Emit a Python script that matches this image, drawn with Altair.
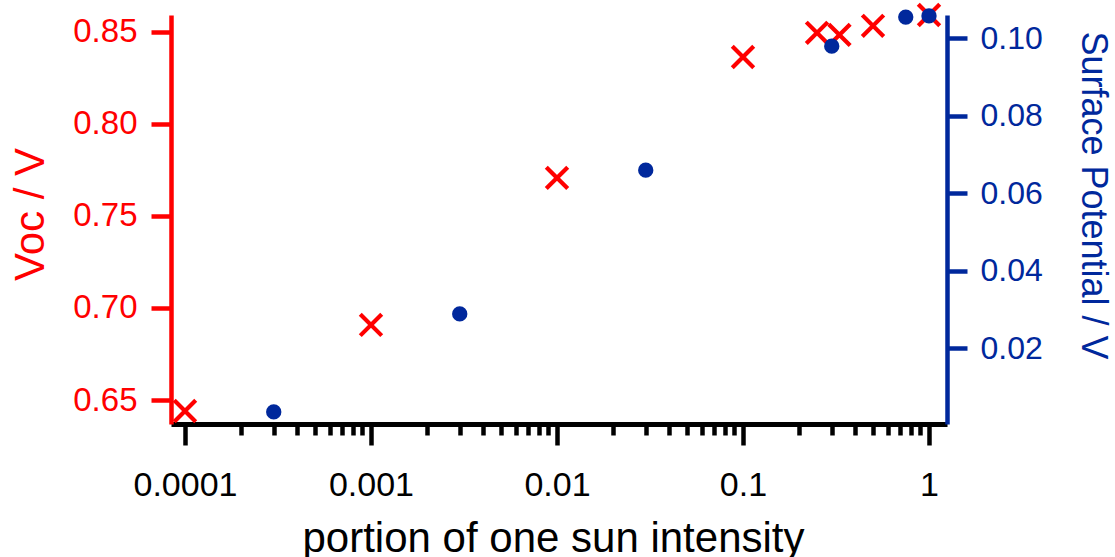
import altair as alt
import pandas as pd

# ---- data ----
intensity_voc = [0.0001, 0.001, 0.01, 0.1, 0.25, 0.33, 0.5, 1.0]
voc = [0.644, 0.6908, 0.7707, 0.8364, 0.8495, 0.8484, 0.8533, 0.8592]

intensity_sp = [0.0003, 0.003, 0.03, 0.3, 0.75, 1.0]
surface_potential = [0.0035, 0.0288, 0.0659, 0.0979, 0.1054, 0.1057]

decades = [0.0001, 0.001, 0.01, 0.1]
multipliers = [1, 2, 3, 4, 5, 6, 7, 8, 9]
last_tick = [1.0]

voc_ticks = [0.65, 0.70, 0.75, 0.80, 0.85]
sp_ticks = [0.02, 0.04, 0.06, 0.08, 0.10]

RED = "#ff0000"
BLUE = "#00289c"
FONT = "Liberation Sans"

x_ticks = [round(d * m, 8) for d in decades for m in multipliers] + last_tick

df_voc = pd.DataFrame({"intensity": intensity_voc, "voc": voc})
df_sp = pd.DataFrame({"intensity": intensity_sp, "sp": surface_potential})

decade_test = "abs(log(datum.value)/LN10 - round(log(datum.value)/LN10)) < 0.001"

x_scale = alt.Scale(type="log", domain=[8.41e-5, 1.2497], nice=False)
x_axis = alt.Axis(
    title="portion of one sun intensity",
    values=x_ticks,
    labelExpr=f"({decade_test}) ? format(datum.value, '~g') : ''",
    labelOverlap=False,
    labelFlush=False,
    labelFont=FONT,
    labelFontSize=34,
    labelColor="black",
    labelPadding=23,
    tickSize={"condition": {"test": decade_test, "value": 21}, "value": 11},
    tickWidth=4.5,
    tickColor="black",
    domainColor="black",
    domainWidth=5,
    grid=False,
    titleFont=FONT,
    titleFontSize=42,
    titleFontWeight="normal",
    titleColor="black",
    titlePadding=16,
    titleX=382,
)

voc_layer = alt.Chart(df_voc).mark_point(
    shape="M-1,-1L1,1M-1,1L1,-1",
    size=460,
    strokeWidth=4.2,
    color=RED,
    filled=False,
    opacity=1,
).encode(
    x=alt.X("intensity:Q", scale=x_scale, axis=x_axis),
    y=alt.Y(
        "voc:Q",
        scale=alt.Scale(domain=[0.63696, 0.8592], nice=False, zero=False),
        axis=alt.Axis(
            orient="left",
            title="Voc / V",
            values=voc_ticks,
            format=".2f",
            labelFont=FONT,
            labelFontSize=33,
            labelColor=RED,
            labelPadding=14,
            tickSize=20,
            tickWidth=4.5,
            tickColor=RED,
            domainColor=RED,
            domainWidth=4.5,
            grid=False,
            titleFont=FONT,
            titleFontSize=42,
            titleFontWeight="normal",
            titleColor=RED,
            titlePadding=20,
            titleY=199,
        ),
    ),
)

sp_layer = alt.Chart(df_sp).mark_circle(size=235, color=BLUE, opacity=1).encode(
    x=alt.X("intensity:Q", scale=x_scale, axis=x_axis),
    y=alt.Y(
        "sp:Q",
        scale=alt.Scale(domain=[0.000387, 0.10594], nice=False, zero=False),
        axis=alt.Axis(
            orient="right",
            title="Surface Potential / V",
            values=sp_ticks,
            format=".2f",
            labelFont=FONT,
            labelFontSize=32,
            labelColor=BLUE,
            labelPadding=13,
            tickSize=20,
            tickWidth=4.5,
            tickColor=BLUE,
            domainColor=BLUE,
            domainWidth=4.5,
            grid=False,
            titleFont=FONT,
            titleFontSize=36,
            titleFontWeight="normal",
            titleColor=BLUE,
            titlePadding=31,
            titleY=180,
        ),
    ),
)

chart = (
    alt.layer(voc_layer, sp_layer)
    .resolve_scale(y="independent")
    .properties(
        width=776,
        height=409,
        padding={"left": 171, "top": 15, "right": 168, "bottom": 133},
        autosize=alt.AutoSizeParams(type="none"),
        background="white",
    )
    .configure_view(stroke=None)
)

chart.save("out.html", embed_options={"renderer": "svg", "actions": False})
